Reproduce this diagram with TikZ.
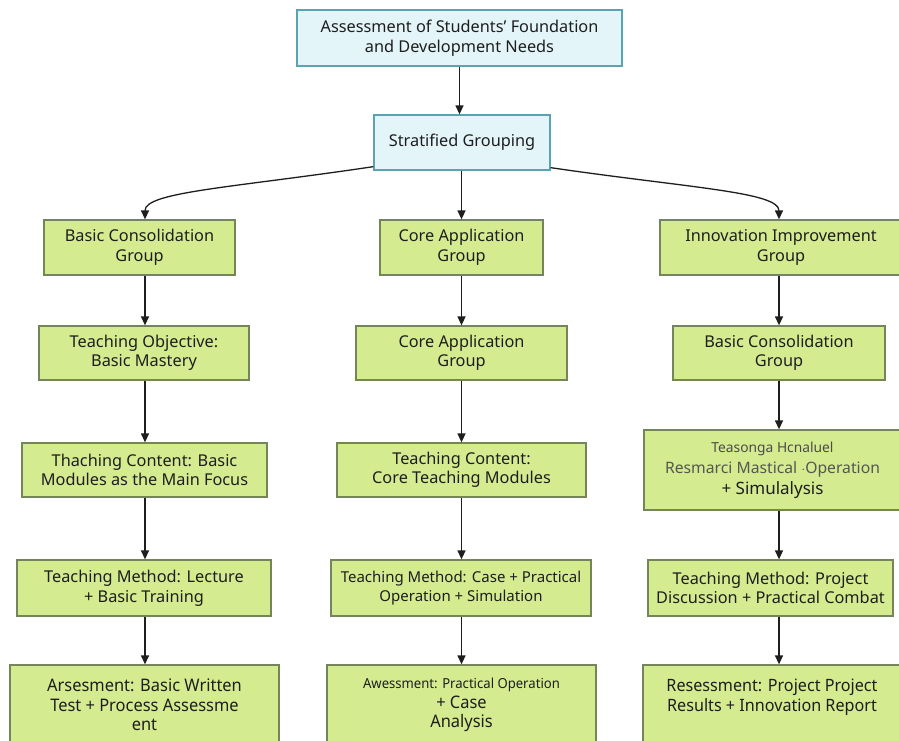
\documentclass[tikz,border=0pt]{standalone}
\usepackage{fontspec}
\setmainfont{Noto Sans}
\newfontfamily\condfont[FakeStretch=0.95]{Noto Sans}
\usetikzlibrary{arrows.meta}
\definecolor{cyfill}{HTML}{E3F5F8}
\definecolor{cyline}{HTML}{5AA3B0}
\definecolor{grfill}{HTML}{D5EB90}
\definecolor{grline}{HTML}{75855A}
\definecolor{ink}{HTML}{1E1E1E}
\begin{document}
\begin{tikzpicture}[x=1pt,y=-1pt,
  box/.style={draw, line width=1.3pt, align=center, inner sep=0pt,
    font=\fontsize{16.3}{19.5}\selectfont, text=ink},
  cbox/.style={box, fill=cyfill, draw=cyline},
  gbox/.style={box, fill=grfill, draw=grline},
  bbox/.style={gbox, font=\condfont\fontsize{17.3}{19.5}\selectfont},
  arr/.style={-{Triangle[length=9pt,width=8pt]}, line width=1.3pt, ink}]
\useasboundingbox (0,0) rectangle (899,740);
\fill[white] (0,0) rectangle (899,740);
\clip (0,0) rectangle (899,740);

\coordinate (c1) at (145,0);
\coordinate (c2) at (461.5,0);
\coordinate (c3) at (779,0);

% top
\node[cbox, minimum width=325pt, minimum height=56pt] (top) at (459.5,38) {Assessment of Students' Foundation\\and Development Needs};
\node[cbox, minimum width=176pt, minimum height=55pt] (sg) at (462,142.5) {Stratified Grouping};

% column 1
\node[gbox, minimum width=191pt, minimum height=55pt] (n1a) at (139.5,247.5) {Basic Consolidation\\Group};
\node[gbox, minimum width=210pt, minimum height=54pt] (n1b) at (144,353) {Teaching Objective:\\Basic Mastery};
\node[gbox, minimum width=245pt, minimum height=54pt] (n1c) at (144.5,470) {Thaching Content: Basic\\Modules as the Main Focus};
\node[gbox, minimum width=254pt, minimum height=56pt] (n1d) at (144,588) {Teaching Method: Lecture\\+ Basic Training};
\node[bbox, minimum width=269pt, minimum height=80pt] (n1e) at (144.5,705) {Arsesment: Basic Written\\Test + Process Assessme\\ent};

% column 2
\node[gbox, minimum width=163pt, minimum height=55pt] (n2a) at (461.5,247.5) {Core Application\\Group};
\node[gbox, minimum width=211pt, minimum height=54pt] (n2b) at (461.5,353) {Core Application\\Group};
\node[gbox, minimum width=249pt, minimum height=54pt] (n2c) at (461.5,470) {Teaching Content:\\Core Teaching Modules};
\node[gbox, minimum width=260pt, minimum height=56pt, font=\fontsize{15}{19.5}\selectfont] (n2d) at (461,588) {Teaching Method: Case + Practical\\Operation + Simulation};
\node[bbox, minimum width=269pt, minimum height=80pt] (n2e) at (461.5,705) {{\fontsize{13.8}{19.5}\selectfont Awessment: Practical Operation}\\+ Case\\Analysis};

% column 3
\node[gbox, minimum width=242pt, minimum height=55pt] (n3a) at (781,247.5) {Innovation Improvement\\Group};
\node[gbox, minimum width=212pt, minimum height=54pt] (n3b) at (779,353) {Basic Consolidation\\Group};
\node[gbox, minimum width=257pt, minimum height=80pt, font=\fontsize{15.7}{21}\selectfont] (n3c) at (772.5,470) {{\fontsize{13.8}{21}\selectfont\color{ink!80}Teasonga Hcnaluel}\\{\color{ink!75}Resmarci Mastical $\cdot$Operation}\\{\fontsize{17}{21}\selectfont + Simulalysis}};
\node[gbox, minimum width=245pt, minimum height=56pt] (n3d) at (770.5,588) {Teaching Method: Project\\Discussion + Practical Combat};
\node[bbox, minimum width=258pt, minimum height=80pt, font=\condfont\fontsize{17}{19.5}\selectfont] (n3e) at (772,705) {Resessment: Project Project\\Results + Innovation Report\\\phantom{x}};

% connectors
\draw[arr] (top.south) -- (top.south |- sg.north);
\draw[arr] (sg.south -| c2) -- (n2a.north -| c2);
\draw[arr] ([yshift=4pt]sg.south west) .. controls (230,188) and (145,192) .. (n1a.north -| c1);
\draw[arr] ([yshift=3pt]sg.south east) .. controls (690,188) and (779,192) .. (n3a.north -| c3);

\foreach \c/\a/\b in {c1/n1a/n1b, c1/n1b/n1c, c1/n1c/n1d, c1/n1d/n1e,
                     c2/n2a/n2b, c2/n2b/n2c, c2/n2c/n2d, c2/n2d/n2e,
                     c3/n3a/n3b, c3/n3b/n3c, c3/n3c/n3d, c3/n3d/n3e}
  \draw[arr] (\a.south -| \c) -- (\b.north -| \c);
\end{tikzpicture}
\end{document}
